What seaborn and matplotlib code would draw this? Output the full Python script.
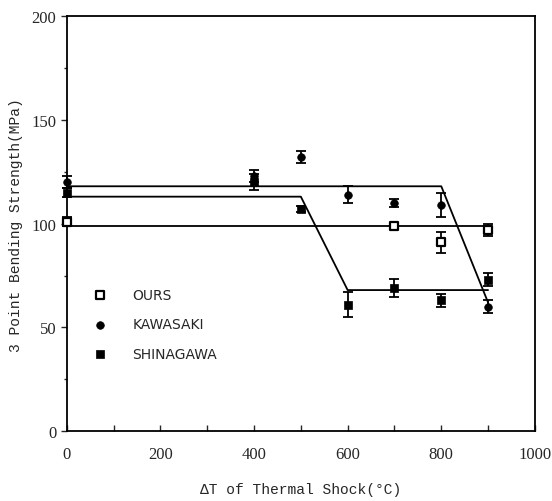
import matplotlib
matplotlib.use("Agg")
import matplotlib.pyplot as plt
import seaborn as sns
import pandas as pd
from matplotlib.ticker import MultipleLocator

# ---- data ----
ours_x = [0, 700, 800, 900]
ours_y = [101, 99, 91, 97]
ours_err = [2, 1.5, 5, 3]

kawasaki_x = [0, 400, 500, 600, 700, 800, 900]
kawasaki_y = [120, 123, 132, 114, 110, 109, 60]
kawasaki_err = [3, 3, 3, 4, 2, 6, 3]

shinagawa_x = [0, 400, 500, 600, 700, 800, 900]
shinagawa_y = [115, 120, 107, 61, 69, 63, 73]
shinagawa_err = [2, 4, 1.5, 6, 4.5, 3, 3]

ours_fit_x = [0, 900]
ours_fit_y = [99, 99]
kawasaki_fit_x = [0, 800, 900]
kawasaki_fit_y = [118, 118, 62]
shinagawa_fit_x = [0, 500, 600, 900]
shinagawa_fit_y = [113, 113, 68, 68]

series_names = ["OURS", "KAWASAKI", "SHINAGAWA"]

sns.set_style("ticks")
plt.rcParams["font.family"] = ["DejaVu Sans"]

fig = plt.figure(figsize=(5.52, 5.02), dpi=100)
ax = fig.add_axes([0.121, 0.139, 0.848, 0.827])

# fit lines
for fx, fy in [(ours_fit_x, ours_fit_y), (kawasaki_fit_x, kawasaki_fit_y),
               (shinagawa_fit_x, shinagawa_fit_y)]:
    sns.lineplot(x=fx, y=fy, ax=ax, color="black", lw=1.3, sort=False,
                 estimator=None, legend=False)

styles = {
    "OURS": dict(marker="s", s=26, facecolor="white", edgecolor="black", linewidth=1.6),
    "KAWASAKI": dict(marker="o", s=30, facecolor="black", edgecolor="black", linewidth=0.5),
    "SHINAGAWA": dict(marker="s", s=36, facecolor="black", edgecolor="black", linewidth=0.5),
}
data = {
    "OURS": (ours_x, ours_y, ours_err),
    "KAWASAKI": (kawasaki_x, kawasaki_y, kawasaki_err),
    "SHINAGAWA": (shinagawa_x, shinagawa_y, shinagawa_err),
}
for name in series_names:
    x, y, e = data[name]
    eb = ax.errorbar(x, y, yerr=e, fmt="none", ecolor="black", elinewidth=1.3,
                     capsize=3.5, capthick=1.3, zorder=3)
    for art in eb.get_children():
        art.set_clip_on(False)
    df = pd.DataFrame({"x": x, "y": y})
    sns.scatterplot(data=df, x="x", y="y", ax=ax, label=name, zorder=4,
                    clip_on=False, **styles[name])

ax.set_xlim(0, 1000)
ax.set_ylim(0, 200)
ax.set_xticks(range(0, 1001, 200))
ax.set_yticks(range(0, 201, 50))
ax.xaxis.set_minor_locator(MultipleLocator(100))
ax.yaxis.set_minor_locator(MultipleLocator(25))
ax.tick_params(axis="x", which="both", direction="in", length=4, width=1)
ax.tick_params(axis="y", which="major", direction="out", length=4, width=1)
ax.tick_params(axis="y", which="minor", direction="out", length=2, width=1)
for lab in ax.get_xticklabels() + ax.get_yticklabels():
    lab.set_fontfamily("Liberation Serif")
    lab.set_fontsize(12)
ax.tick_params(axis="x", pad=11)

for sp in ax.spines.values():
    sp.set_visible(True)
    sp.set_linewidth(1.3)
    sp.set_color("black")

ax.set_xlabel("ΔT of Thermal Shock(°C)", family="Liberation Mono", fontsize=10.5, labelpad=14)
ax.set_ylabel("3 Point Bending Strength(MPa)", family="Liberation Mono", fontsize=10.5, labelpad=6)

leg = ax.legend(loc="lower left", bbox_to_anchor=(0.03, 0.14), frameon=False,
                prop={"family": "DejaVu Sans", "size": 10}, labelspacing=1.1,
                handletextpad=1.8, handlelength=1.0)

fig.savefig("out.png", dpi=100)
